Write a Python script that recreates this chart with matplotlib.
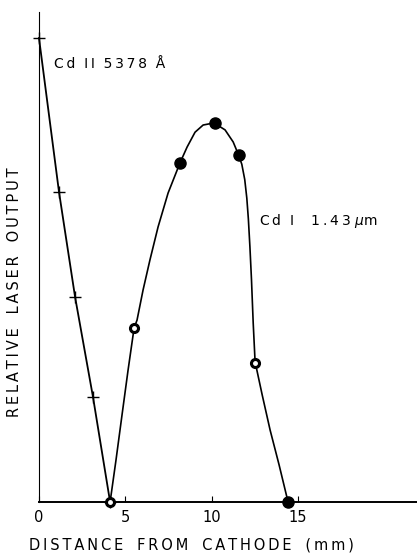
import matplotlib.pyplot as plt

# Cd II 5378 A (crosses, straight segments)
cd2_x = [0.0, 1.16, 2.09, 3.13, 4.12]
cd2_y = [1.0, 0.668, 0.442, 0.226, 0.0]

# Cd I 1.43 um measured points
cd1_x = [4.12, 5.51, 8.17, 10.2, 11.6, 12.52, 14.43]
cd1_y = [0.0, 0.375, 0.731, 0.817, 0.748, 0.30, 0.0]
# which points are drawn as dotted circles
cd1_open = [True, True, False, False, False, True, False]

# hand-drawn curve through the Cd I points
curve_x = [4.12, 4.46, 4.81, 5.16, 5.51, 5.68, 6.03, 6.43, 6.90, 7.48, 8.17,
           8.58, 9.04, 9.51, 10.14, 10.78, 11.25, 11.54, 11.75, 11.92, 12.04,
           12.13, 12.22, 12.31, 12.41, 12.52, 12.93, 13.39, 13.91, 14.43]
curve_y = [0.0, 0.09, 0.1875, 0.284, 0.375, 0.392, 0.457, 0.522, 0.593, 0.666, 0.731,
           0.765, 0.797, 0.8125, 0.817, 0.802, 0.776, 0.75, 0.728, 0.695, 0.655,
           0.61, 0.55, 0.48, 0.386, 0.302, 0.231, 0.155, 0.080, 0.0]

xticks = [0, 5, 10, 15]
xtick_labels = ['0', '5', '10', '15']

plt.rcParams['font.family'] = ['DejaVu Sans']


def spaced(s):
    # letter-spaced lettering like the original drawing
    return '\u2009'.join(s)


fig = plt.figure(figsize=(4.17, 5.58), dpi=100)
ax = fig.add_axes([0.0935, 0.1004, 0.9065, 0.878])

ax.plot(cd2_x, cd2_y, color='black', lw=1.3, marker='+', ms=9, mew=1.0, clip_on=False)
ax.plot(curve_x, curve_y, color='black', lw=1.2, solid_joinstyle='round', clip_on=False)

for x, y, op in zip(cd1_x, cd1_y, cd1_open):
    if op:
        ax.plot(x, y, 'o', ms=7, mfc='black', mec='black', zorder=3, clip_on=False)
        ax.plot(x, y, 'o', ms=2.5, mfc='white', mec='white', zorder=4, clip_on=False)
    else:
        ax.plot(x, y, 'o', ms=8, mfc='black', mec='black', zorder=3, clip_on=False)

ax.text(0.85, 0.945, spaced('Cd') + '  ' + spaced('II') + '  ' + spaced('5378') + '  Å',
        fontsize=10, va='center', ha='left')
ax.text(12.75, 0.605, spaced('Cd') + '  I    ' + spaced('1.43') + ' $\\mu$m',
        fontsize=10, va='center', ha='left')

ax.set_xlim(0, 21.9)
ax.set_ylim(0, 1.056)
ax.set_xticks(xticks)
ax.set_xticklabels(xtick_labels, fontsize=10.5)
ax.set_yticks([])
ax.tick_params(axis='x', direction='in', length=4, width=0.8, pad=6)
for s in ['top', 'right']:
    ax.spines[s].set_visible(False)
ax.spines['left'].set_linewidth(0.8)
ax.spines['bottom'].set_linewidth(1.4)

fig.text(0.035, 0.477, '   '.join(spaced(w) for w in ['RELATIVE', 'LASER', 'OUTPUT']),
         rotation=90, fontsize=10.5, ha='center', va='center')
fig.text(0.458, 0.023, '   '.join(spaced(w) for w in ['DISTANCE', 'FROM', 'CATHODE', '(mm)']),
         fontsize=10.5, ha='center', va='center')

fig.savefig('out.png', dpi=100)
